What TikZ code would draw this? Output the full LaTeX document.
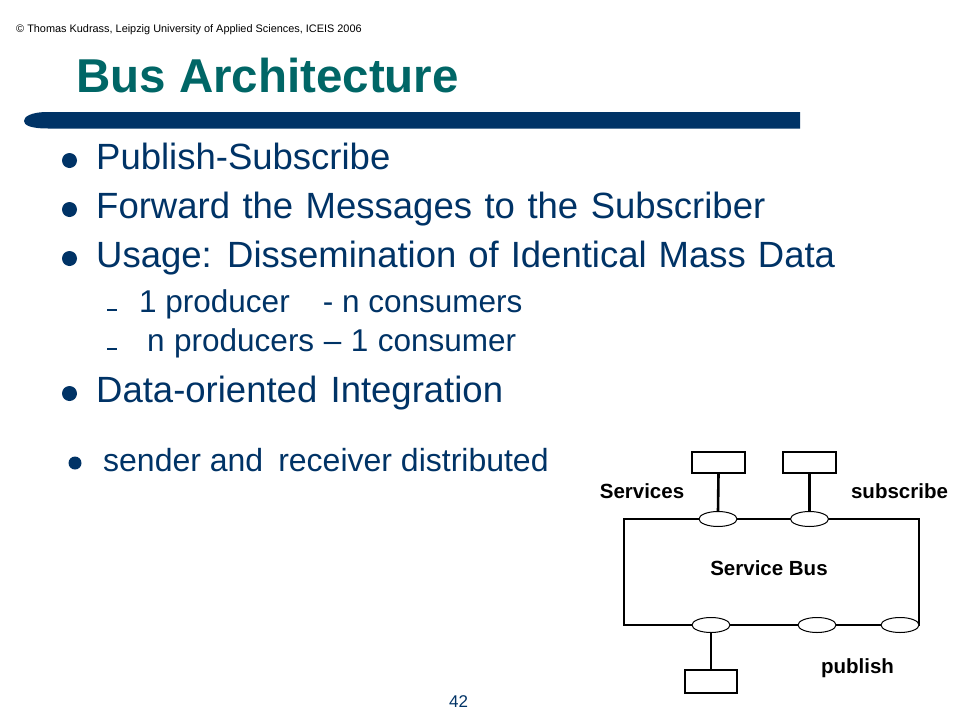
\documentclass[tikz,border=0pt]{standalone}
\usepackage{fontspec}
\setmainfont{Liberation Sans}
\usetikzlibrary{shapes.geometric}
\definecolor{navy}{RGB}{0,51,102}
\definecolor{titleteal}{RGB}{0,102,102}
\begin{document}
\begin{tikzpicture}[x=1pt,y=-1pt,
  txt/.style={anchor=base west, inner sep=0pt, text=navy},
  big/.style={font=\fontsize{36.5}{40}\selectfont},
  subtxt/.style={font=\fontsize{31.5}{35}\selectfont},
  bdot/.style={circle, fill=navy, inner sep=0pt, minimum size=15pt},
  sdash/.style={fill=navy, inner sep=0pt, minimum width=10pt, minimum height=2pt},
  lbl/.style={anchor=base, inner sep=0pt, font=\fontsize{20.5}{24}\selectfont\bfseries},
  svcbox/.style={draw, line width=1.2pt, fill=white, inner sep=0pt},
  port/.style={ellipse, draw, line width=1pt, fill=white, inner sep=0pt, minimum width=38pt, minimum height=15pt},
  link/.style={line width=2.6pt}
]
\fill[white] (0,0) rectangle (960,720);
\useasboundingbox (0,0) rectangle (960,720);

% header
\node[txt, text=black, font=\fontsize{10.9}{13}\selectfont] (hdr) at (16,32)
  {© Thomas Kudrass, Leipzig University of Applied Sciences, ICEIS 2006};

% title
\node[txt, text=titleteal, font=\fontsize{47.5}{54}\selectfont\bfseries] (title) at (76,92) {Bus Architecture};

% title bar
\fill[navy] (800,112) -- (48,112) .. controls (30,112) and (24,117) .. (24,121)
  .. controls (24,125) and (30,128.5) .. (48,128.5) -- (800,128.5) -- cycle;

% bullets
\node[bdot] (d1) at (69.5,160.5) {};
\node[txt, big] (t1) at (96,169) {Publish-Subscribe};
\node[bdot] (d2) at (69.5,209.5) {};
\node[txt, big] (t2) at (96,218) {\spaceskip=12.5pt Forward the Messages to the Subscriber};
\node[bdot] (d3) at (69.5,258.5) {};
\node[txt, big] (t3) at (96,267) {\spaceskip=12pt Usage: Dissemination of Identical Mass Data};

\node[sdash] (s1) at (112,310) {};
\node[txt, subtxt] (u1) at (139,312) {1 producer\hspace{33pt}- n consumers};
\node[sdash] (s2) at (112,349) {};
\node[txt, subtxt] (u2) at (147,351) {\spaceskip=9.5pt n producers -- 1 consumer};

\node[bdot] (d4) at (69.5,393.5) {};
\node[txt, big] (t4) at (96,402) {Data-oriented\hspace{13.3pt}Integration};

\node[bdot, minimum size=13pt] (d5) at (75,463) {};
\node[txt, font=\fontsize{32}{36}\selectfont] (t5) at (103,471) {sender and\hspace{15pt}receiver distributed};

% page number
\node[txt, font=\fontsize{17}{20}\selectfont] (pg) at (449,707) {42};

% diagram
\node[draw, line width=1.4pt, inner sep=0pt, minimum width=295pt, minimum height=106pt] (bus) at (771.5,572) {};
\node[svcbox, minimum width=53pt, minimum height=21pt] (b1) at (718.5,462.5) {};
\node[svcbox, minimum width=53pt, minimum height=21pt] (b2) at (809.5,462.5) {};
\node[svcbox, minimum width=52pt, minimum height=23pt] (b3) at (711,681.5) {};
\node[port] (e1) at (718,519) {};
\node[port] (e2) at (809.5,519) {};
\node[port] (e3) at (711,625) {};
\node[port] (e4) at (817,625) {};
\node[port] (e5) at (900,625) {};
\draw[link] (b1.south) -- (e1.north);
\draw[link] (b2.south) -- (e2.north);
\draw[link] (e3.south) -- (b3.north);

\node[lbl] (lsvc) at (642,498) {Services};
\node[lbl] (lsub) at (899.5,498) {subscribe};
\node[lbl] (lbus) at (769,575) {Service Bus};
\node[lbl] (lpub) at (857.5,673) {publish};
\end{tikzpicture}
\end{document}
